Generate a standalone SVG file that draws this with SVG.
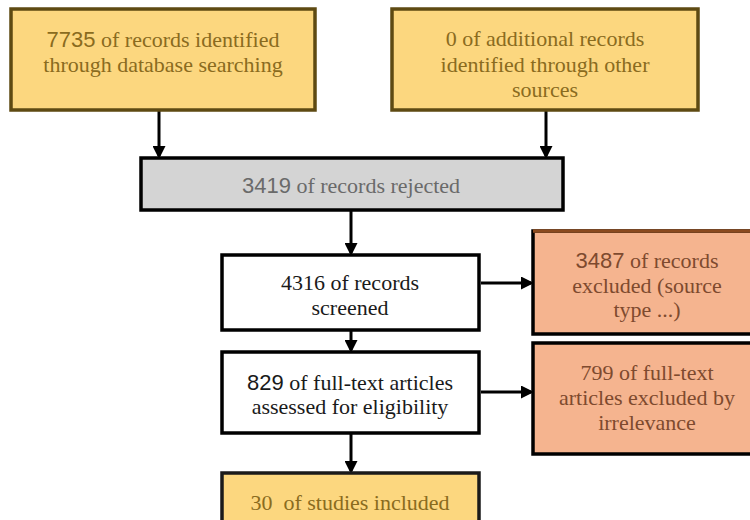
<svg xmlns="http://www.w3.org/2000/svg" width="750" height="520" viewBox="0 0 750 520">
<defs>
<marker id="ah" markerWidth="13" markerHeight="13" refX="10" refY="6.5" orient="auto" markerUnits="userSpaceOnUse" viewBox="0 0 13 13">
<path d="M0,0 L13,6.5 L0,13 Z" fill="#000"/>
</marker>
<style>
text{font-family:'Liberation Serif','Times New Roman',serif;font-size:22px;text-anchor:middle}
.n{font-family:'Liberation Sans',Arial,sans-serif}
.yel{fill:#fcd77f;stroke:#5e4a12;stroke-width:3.5}
.gry{fill:#d4d4d4;stroke:#000;stroke-width:3.5}
.wht{fill:#fff;stroke:#000;stroke-width:3.5}
.org{fill:#f5b48f;stroke:#000;stroke-width:3.5}
.ty{fill:#8a6b1e}
.tg{fill:#6a6a6a}
.tw{fill:#1a1a1a}
.to{fill:#7e4a2e}
.c{stroke:#000;stroke-width:3;fill:none;marker-end:url(#ah)}
</style>
</defs>
<g id="connectors">
<line class="c" x1="159" y1="111" x2="159" y2="156"/>
<line class="c" x1="546" y1="111" x2="546" y2="156"/>
<line class="c" x1="351" y1="211" x2="351" y2="253"/>
<line class="c" x1="481" y1="283" x2="531" y2="283"/>
<line class="c" x1="351" y1="331" x2="351" y2="350"/>
<line class="c" x1="481" y1="392" x2="531" y2="392"/>
<line class="c" x1="351" y1="434" x2="351" y2="471"/>
</g>
<g id="n1">
<rect class="yel" x="11" y="9" width="304" height="101"/>
<text class="ty" x="163" y="47"><tspan class="n">7735</tspan> of records identified</text>
<text class="ty" x="163" y="72">through database searching</text>
</g>
<g id="n2">
<rect class="yel" x="392" y="9" width="306" height="101"/>
<text class="ty" x="545" y="46">0 of additional records</text>
<text class="ty" x="545" y="72">identified through other</text>
<text class="ty" x="545" y="97">sources</text>
</g>
<g id="n3">
<rect class="gry" x="141" y="158" width="422" height="52"/>
<text class="tg" x="351" y="193"><tspan class="n">3419</tspan> of records rejected</text>
</g>
<g id="n4">
<rect class="wht" x="222" y="255" width="257" height="75"/>
<text class="tw" x="350" y="290">4316 of records</text>
<text class="tw" x="350" y="315">screened</text>
</g>
<g id="n5">
<rect class="org" x="533" y="231" width="230" height="103"/>
<line x1="533" y1="231" x2="763" y2="231" stroke="#8a4a1e" stroke-width="3.5"/>
<text class="to" x="647" y="268"><tspan class="n">3487</tspan> of records</text>
<text class="to" x="647" y="293">excluded (source</text>
<text class="to" x="647" y="317">type ...)</text>
</g>
<g id="n6">
<rect class="wht" x="222" y="352" width="257" height="81"/>
<text class="tw" x="350" y="390"><tspan class="n">829</tspan> of full-text articles</text>
<text class="tw" x="350" y="414">assessed for eligibility</text>
</g>
<g id="n7">
<rect class="org" x="533" y="343" width="230" height="111"/>
<text class="to" x="647" y="380">799&#160;of full-text</text>
<text class="to" x="647" y="405">articles excluded by</text>
<text class="to" x="647" y="430">irrelevance</text>
</g>
<g id="n8">
<rect class="yel" x="222" y="473" width="257" height="60" style="stroke:#1a1a1a"/>
<text class="ty" x="350" y="510">30&#160; of studies included</text>
</g>
</svg>
